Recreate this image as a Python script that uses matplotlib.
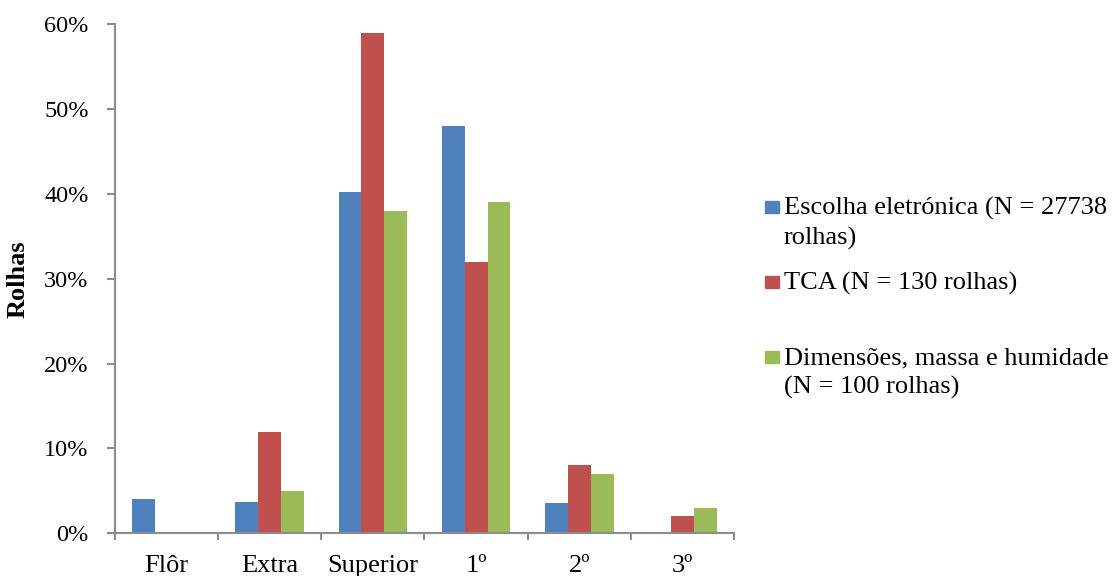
import numpy as np
import matplotlib
matplotlib.use("Agg")
import matplotlib.pyplot as plt
from matplotlib.patches import Rectangle
from matplotlib.ticker import FuncFormatter, FixedLocator

categories = ["Flôr", "Extra", "Superior", "1º", "2º", "3º"]
escolha = [4.1, 3.7, 40.2, 48.0, 3.6, 0.0]
tca = [0.0, 12.0, 59.0, 32.0, 8.0, 2.0]
dimensoes = [0.0, 5.0, 38.0, 39.0, 7.0, 3.0]
series_labels = [
    "Escolha eletrónica (N = 27738\nrolhas)",
    "TCA (N = 130 rolhas)",
    "Dimensões, massa e humidade\n(N = 100 rolhas)",
]
colors = ["#4F81BD", "#C0504D", "#9BBB59"]

plt.rcParams["font.family"] = ["Liberation Serif", "DejaVu Serif"]
FS = 19
YFS = 17.5
plt.rcParams["font.size"] = FS

W, H = 1114, 576
fig = plt.figure(figsize=(W / 100, H / 100), dpi=100)
ax_left, ax_right, ax_top, ax_bottom = 115, 734, 24.3, 533.3
ax = fig.add_axes([ax_left / W, 1 - ax_bottom / H,
                   (ax_right - ax_left) / W, (ax_bottom - ax_top) / H])

n = len(categories)
x = np.arange(n)
width = 1 / 4.5
for i, vals in enumerate([escolha, tca, dimensoes]):
    ax.bar(x + (i - 1) * width, np.array(vals) / 100, width=width,
           color=colors[i], linewidth=0, zorder=2)

ax.set_xlim(-0.5, n - 0.5)
ax.set_ylim(0, 0.6)
ax.set_yticks(np.arange(0, 0.61, 0.1))
ax.yaxis.set_major_formatter(FuncFormatter(lambda v, p: f"{v*100:.0f}%"))

# category boundaries carry the tick marks, centres carry the labels
ax.xaxis.set_major_locator(FixedLocator(np.arange(-0.5, n, 1.0)))
ax.xaxis.set_minor_locator(FixedLocator(x))
ax.set_xticklabels([""] * (n + 1))
ax.set_xticklabels(categories, minor=True)

axis_gray = "#8C8C8C"
for side in ["top", "right"]:
    ax.spines[side].set_visible(False)
for side in ["left", "bottom"]:
    ax.spines[side].set_color(axis_gray)
    ax.spines[side].set_linewidth(1.5)

ax.tick_params(axis="y", which="major", direction="out", length=6,
               width=1.5, color=axis_gray, pad=13, labelsize=YFS)
ax.tick_params(axis="x", which="major", direction="out", length=5,
               width=1.5, color=axis_gray)
ax.tick_params(axis="x", which="minor", length=0, pad=15.5, labelsize=FS)

ax.set_ylabel("Rolhas", fontweight="bold", fontsize=FS)
ax.yaxis.set_label_coords((30 - ax_left) / (ax_right - ax_left), 0.5)

# legend beside the plot area: marker box (top, bottom) and first-line baseline
legend_rows = [(201, 213, 215), (276, 288, 290), (351, 363, 364)]
line_step = 30
for label, color, (top, bottom, base) in zip(series_labels, colors, legend_rows):
    fig.patches.append(Rectangle((765 / W, 1 - bottom / H), 14 / W,
                                 (bottom - top) / H,
                                 transform=fig.transFigure, color=color))
    for k, line in enumerate(label.split("\n")):
        fig.text(784 / W, 1 - (base + k * line_step) / H, line,
                 ha="left", va="baseline", fontsize=FS)

fig.savefig("out.png", dpi=100)
